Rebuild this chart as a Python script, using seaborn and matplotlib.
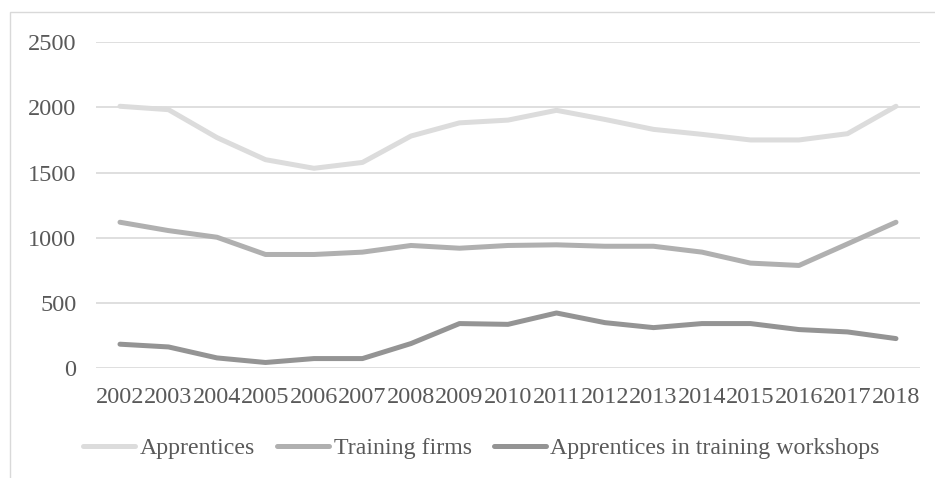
import matplotlib
matplotlib.use("Agg")
import matplotlib.pyplot as plt
import seaborn as sns
import pandas as pd
from matplotlib.patches import Rectangle

years = [str(y) for y in range(2002, 2019)]
apprentices = [2008, 1982, 1768, 1599, 1533, 1578, 1780, 1881, 1902, 1977,
               1907, 1831, 1793, 1750, 1750, 1798, 2008]
training_firms = [1120, 1056, 1005, 873, 873, 891, 942, 921, 942, 947,
                  936, 936, 891, 807, 789, 954, 1120]
workshop_apprentices = [186, 165, 81, 46, 76, 76, 191, 344, 338, 425,
                        351, 313, 344, 344, 298, 280, 229]

series_names = ["Apprentices", "Training firms",
                "Apprentices in training workshops"]
series_colors = ["#dcdcdc", "#b0b0b0", "#949494"]
y_ticks = [0, 500, 1000, 1500, 2000, 2500]

df = pd.DataFrame({
    "Year": years * 3,
    "Value": apprentices + training_firms + workshop_apprentices,
    "Series": [series_names[0]] * len(years)
              + [series_names[1]] * len(years)
              + [series_names[2]] * len(years),
})

sns.set_theme(style="white")
plt.rcParams["font.family"] = ["Liberation Serif", "DejaVu Serif"]
text_color = "#595959"

fig = plt.figure(figsize=(9.35, 4.78), dpi=100)
ax = fig.add_axes([0.1024, 0.2291, 0.8818, 0.683])

# chart-area frame (open at right and bottom)
fig.patches.append(Rectangle((10 / 935, -0.1), 1.2, (478 - 12) / 478 + 0.1,
                             transform=fig.transFigure, fill=False,
                             edgecolor="#d9d9d9", linewidth=1.0, zorder=0))

sns.lineplot(data=df, x="Year", y="Value", hue="Series",
             hue_order=series_names, palette=series_colors,
             linewidth=3.6, sort=False, ax=ax)
for line in ax.get_lines():
    line.set_solid_capstyle("round")
    line.set_solid_joinstyle("round")

ax.set_xlim(-0.5, len(years) - 0.5)
ax.set_ylim(0, 2500)
ax.set_yticks(y_ticks)
ax.set_yticklabels([str(t) for t in y_ticks])
ax.yaxis.grid(True, color="#d9d9d9", linewidth=1.2)
ax.xaxis.grid(False)
ax.set_axisbelow(True)
for s in ax.spines.values():
    s.set_visible(False)
ax.set_xlabel("")
ax.set_ylabel("")
ax.tick_params(axis="y", length=0, pad=14, labelsize=17.5, labelcolor=text_color)
ax.tick_params(axis="x", length=0, pad=13, labelsize=17.5, labelcolor=text_color)

handles, labels = ax.get_legend_handles_labels()
ax.legend(handles, labels, loc="center", bbox_to_anchor=(0.468, -0.245),
          ncol=3, frameon=False, fontsize=17.2, labelcolor=text_color,
          handlelength=2.15, handletextpad=0.2, columnspacing=0.95)

fig.savefig("out.png", dpi=100, facecolor="white")
